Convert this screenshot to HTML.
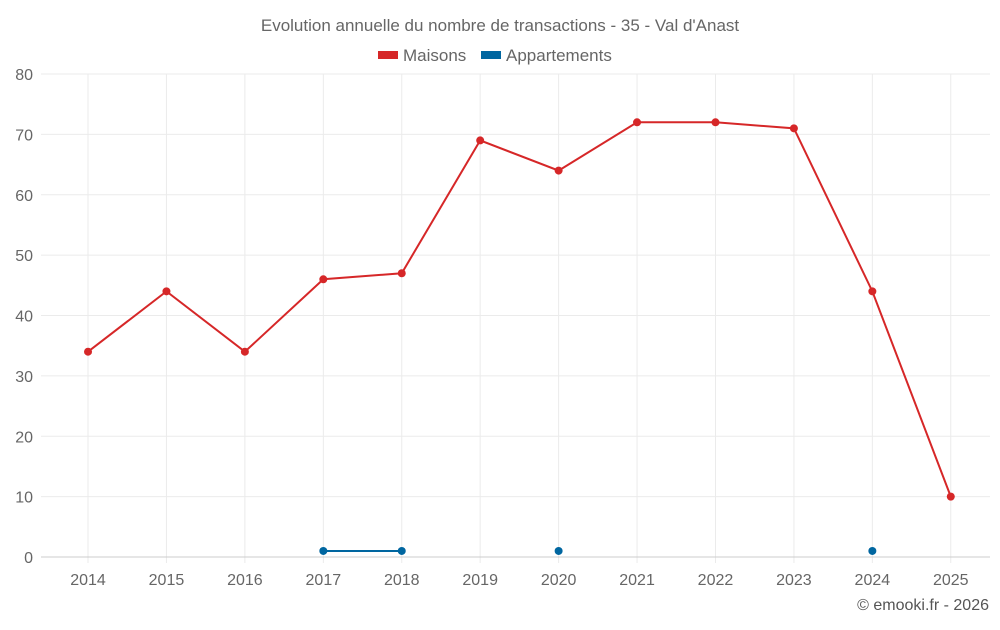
<!DOCTYPE html>
<html><head><meta charset="utf-8">
<style>
body{margin:0;background:#fff;font-family:"Liberation Sans",sans-serif;}
svg text{font-family:"Liberation Sans",sans-serif;}
</style></head>
<body>
<svg id="chart" width="1000" height="625" xmlns="http://www.w3.org/2000/svg">
<text x="500" y="31" text-anchor="middle" font-size="17" fill="#666">Evolution annuelle du nombre de transactions - 35 - Val d'Anast</text>
<g>
<g><rect x="378" y="51" width="20" height="8" fill="#d62728"/><text x="403" y="61" font-size="17" fill="#666">Maisons</text></g>
<g><rect x="481" y="51" width="20" height="8" fill="#0066a0"/><text x="506" y="61" font-size="17" fill="#666">Appartements</text></g>
</g>
<g id="grid"></g>
<g id="axes"></g>
<g id="series"></g>
<text x="989" y="610" text-anchor="end" font-size="16" fill="#555">© emooki.fr - 2026</text>
</svg>
<script>
const years = ["2014","2015","2016","2017","2018","2019","2020","2021","2022","2023","2024","2025"];
const maisons = [34,44,34,46,47,69,64,72,72,71,44,10];
const appartements = [null,null,null,1,1,null,1,null,null,null,1,null];
const yTicks = [0,10,20,30,40,50,60,70,80];
const L=48.8,R=990,T=74,B=557,yMax=80;
const bw=(R-L)/years.length;
const x=i=>L+bw*(i+0.5);
const y=v=>B-(v/yMax)*(B-T);
const NS="http://www.w3.org/2000/svg";
function mk(tag,attrs,parent){const e=document.createElementNS(NS,tag);for(const k in attrs)e.setAttribute(k,attrs[k]);parent.appendChild(e);return e;}
const grid=document.getElementById('grid'),axes=document.getElementById('axes'),series=document.getElementById('series');
years.forEach((yr,i)=>{
  const ln=mk('line',{x1:x(i),x2:x(i),y1:T,y2:B+6,stroke:'#ebebeb','stroke-width':1},grid);
  
  
  const tx=mk('text',{x:x(i),y:B+28,'text-anchor':'middle','font-size':16,fill:'#666'},axes);
  tx.textContent=yr;
  
  
});
yTicks.forEach(t=>{
  const ln=mk('line',{x1:41,x2:R,y1:y(t),y2:y(t),stroke:t===0?'#ccc':'#ebebeb','stroke-width':1},grid);
  
  
  const tx=mk('text',{x:33,y:y(t)+6,'text-anchor':'end','font-size':16,fill:'#666'},axes);
  tx.textContent=t;
  
  
});
function draw(vals,color,name){
  let segs=[],cur=[];
  vals.forEach((v,i)=>{if(v==null){if(cur.length)segs.push(cur);cur=[];}else cur.push([x(i),y(v)]);});
  if(cur.length)segs.push(cur);
  segs.forEach(s=>{if(s.length>1){
    const p=mk('polyline',{points:s.map(q=>q.join(',')).join(' '),fill:'none',stroke:color,'stroke-width':2},series);
    
    
  }});
  vals.forEach((v,i)=>{if(v==null)return;
    const c=mk('circle',{cx:x(i),cy:y(v),r:4,fill:color},series);
    
    
  });
}
draw(maisons,'#d62728','maisons');
draw(appartements,'#0066a0','appartements');
</script>
</body></html>
